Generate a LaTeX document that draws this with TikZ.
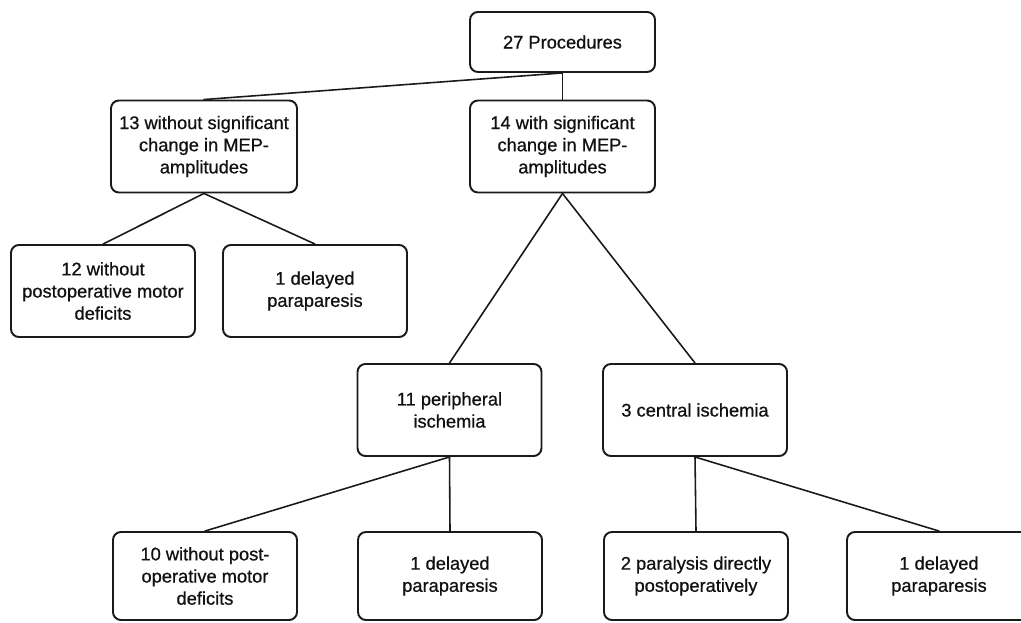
\documentclass[tikz,border=0pt]{standalone}
\usepackage{fontspec}
\setmainfont{Liberation Sans}[BoldFont=Liberation Sans,BoldFeatures={FakeBold=0.7}]
\usepackage{xcolor}
\usepackage{tikz}
\usetikzlibrary{positioning}
\definecolor{fcInk}{HTML}{111111}
\definecolor{fcLine}{HTML}{1A1A1A}
\tikzset{
  fc diagram/.style={font=\fontsize{10.4}{12.6}\selectfont\bfseries, text=fcInk,
    line cap=round, line join=round},
  fc box/.style={draw=fcLine, fill=white, line width=1.1pt,
    rounded corners=4.5pt, align=center, inner sep=3pt,
    minimum width=3.68cm, minimum height=1.84cm},
  fc top box/.style={fc box, minimum width=3.7cm, minimum height=1.2cm},
  fc leaf box/.style={fc box, minimum height=1.76cm},
  fc link/.style={draw=fcLine, line width=0.9pt}
}
\begin{document}
\begin{tikzpicture}[fc diagram]
\useasboundingbox[fill=white] (0,0) rectangle (20.42,12.44);
\node[fc top box] (proc) at (11.25,11.6) {27 Procedures};
\node[fc box,minimum width=3.72cm] (nochg) at (4.08,9.51) {13 without significant\\change in MEP-\\amplitudes};
\node[fc box,minimum width=3.7cm] (chg) at (11.25,9.51) {14 with significant\\change in MEP-\\amplitudes};
\node[fc box] (nodef) at (2.06,6.62) {12 without\\postoperative motor\\deficits};
\node[fc box] (delA) at (6.3,6.62) {1 delayed\\paraparesis};
\node[fc box] (periph) at (8.99,4.24) {11 peripheral\\ischemia};
\node[fc box] (central) at (13.9,4.24) {3 central ischemia};
\node[fc leaf box] (nodefB) at (4.1,0.92) {10 without post-\\operative motor\\deficits};
\node[fc leaf box] (delB) at (9.0,0.92) {1 delayed\\paraparesis};
\node[fc leaf box] (paral) at (13.92,0.92) {2 paralysis directly\\postoperatively};
\node[fc leaf box] (delC) at (18.78,0.92) {1 delayed\\paraparesis};
\foreach \a/\b in {proc/nochg,proc/chg,nochg/nodef,nochg/delA,chg/periph,chg/central,
  periph/nodefB,periph/delB,central/paral,central/delC}{
  \draw[fc link] (\a.south) -- (\b.north);
}
\end{tikzpicture}
\end{document}
